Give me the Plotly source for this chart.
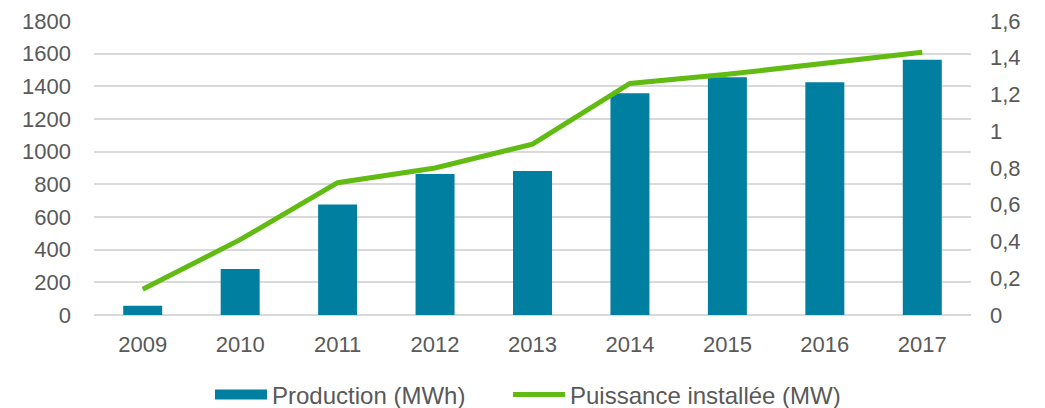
import plotly.graph_objects as go

years = ["2009", "2010", "2011", "2012", "2013", "2014", "2015", "2016", "2017"]
production_mwh = [57, 281, 676, 863, 882, 1358, 1456, 1425, 1562]
puissance_mw = [0.14, 0.41, 0.72, 0.80, 0.93, 1.26, 1.31, 1.37, 1.43]

left_ticks = [0, 200, 400, 600, 800, 1000, 1200, 1400, 1600, 1800]
right_ticks = [0, 0.2, 0.4, 0.6, 0.8, 1.0, 1.2, 1.4, 1.6]
right_ticklabels = ["0", "0,2", "0,4", "0,6", "0,8", "1", "1,2", "1,4", "1,6"]

font_family = "Liberation Sans, Arial, sans-serif"
grey = "#595959"
blue = "#007fa0"
green = "#62bb12"
fs = 22
W, H = 1037, 400

fig = go.Figure()
fig.add_trace(go.Bar(
    x=years, y=production_mwh, name="Production (MWh)",
    marker=dict(color=blue, line=dict(width=0)),
    width=0.4, yaxis="y", showlegend=False,
))
# legend proxy giving the wide rectangular swatch of the reference
fig.add_trace(go.Scatter(
    x=[None], y=[None], name="Production (MWh)", mode="lines",
    line=dict(color=blue, width=12), yaxis="y", showlegend=True, legend="legend",
))
fig.add_trace(go.Scatter(
    x=years, y=puissance_mw, name="Puissance installée (MW)",
    mode="lines", line=dict(color=green, width=5),
    yaxis="y2", legend="legend2",
))

leg_common = dict(orientation="h", yref="container", y=13 / H, yanchor="middle",
                  xref="container", xanchor="left",
                  font=dict(size=24, color=grey), itemwidth=52)

# page body has an 8px default margin; figure is sized to fit inside the window
fig.update_layout(
    width=W, height=H,
    margin=dict(l=86, r=74, t=13, b=93, autoexpand=False),
    paper_bgcolor="white", plot_bgcolor="white",
    font=dict(family=font_family, size=fs, color=grey),
    showlegend=True,
    legend=dict(x=202 / W, **leg_common),
    legend2=dict(x=500 / W, **leg_common),
    xaxis=dict(type="category", showgrid=False, ticks="", showline=False,
               ticklabelstandoff=14, tickfont=dict(size=fs, color=grey)),
    yaxis=dict(range=[0, 1800], tickvals=left_ticks, showgrid=True,
               gridcolor="#d9d9d9", gridwidth=1.5, zeroline=True,
               zerolinecolor="#d9d9d9", zerolinewidth=1.5,
               ticks="", ticklabelstandoff=22, tickfont=dict(size=fs, color=grey)),
    yaxis2=dict(range=[0, 1.6], tickvals=right_ticks, ticktext=right_ticklabels,
                overlaying="y", side="right", showgrid=False, zeroline=False,
                ticks="", ticklabelstandoff=18, tickfont=dict(size=fs, color=grey)),
)

fig.write_html("out.html")
